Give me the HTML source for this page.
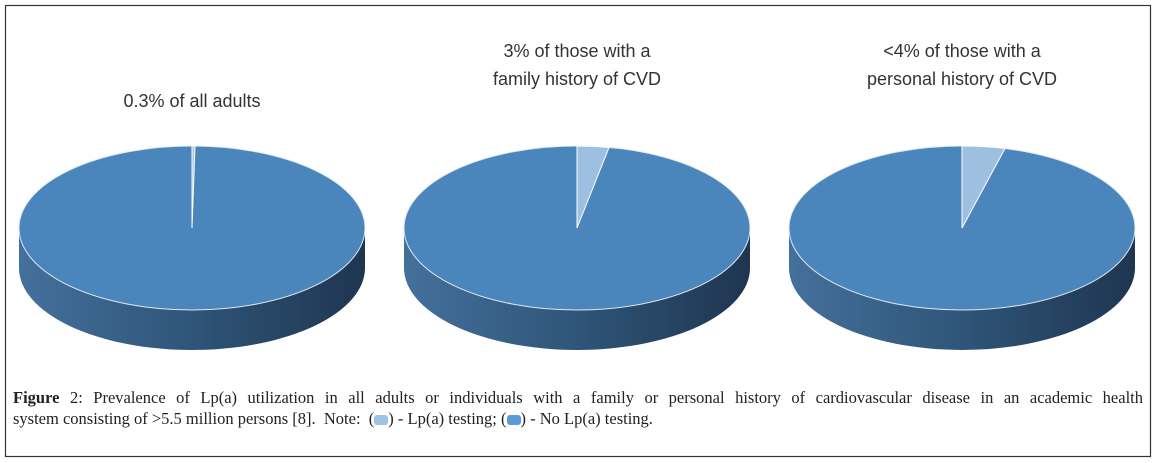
<!DOCTYPE html>
<html><head><meta charset="utf-8"><style>
body{margin:0;background:#fff;width:1157px;height:463px;overflow:hidden}
.cap{position:absolute;left:13px;top:387px;font-family:"Liberation Serif",serif;font-size:16.5px;color:#222;line-height:21px;width:1130px}
.l1{text-align:justify;text-align-last:justify;white-space:nowrap;display:block}
.sw{display:inline-block;width:14px;height:10px;border-radius:3px;vertical-align:-1px}
</style></head><body>
<svg width="1157" height="463" style="position:absolute;left:0;top:0">
<defs>
<linearGradient id="sd" x1="0" x2="1" y1="0" y2="0">
<stop offset="0" stop-color="#44709c"/><stop offset="0.5" stop-color="#2f5578"/><stop offset="1" stop-color="#1f3550"/>
</linearGradient>
</defs>
<rect x="5.5" y="5.5" width="1145" height="451" fill="none" stroke="#333" stroke-width="1.2"/>
<g font-family="Liberation Sans,sans-serif" font-size="18" fill="#333" text-anchor="middle">
<text x="192" y="107">0.3% of all adults</text>
<text x="577" y="57">3% of those with a</text>
<text x="577" y="85">family history of CVD</text>
<text x="962" y="57">&lt;4% of those with a</text>
<text x="962" y="85">personal history of CVD</text>
</g>
<g>
<path d="M19 228 L19 268 A173 82 0 0 0 365 268 L365 228 Z" fill="url(#sd)"/>
<ellipse cx="192" cy="228" rx="173" ry="82" fill="#4a86bb" stroke="#dfe9f3" stroke-width="1"/>
<path d="M192 228 L192 146 L195 146 Z" fill="#a8c6e4" stroke="#fff" stroke-width="1"/>
</g>
<g>
<path d="M404 228 L404 268 A173 82 0 0 0 750 268 L750 228 Z" fill="url(#sd)"/>
<ellipse cx="577" cy="228" rx="173" ry="82" fill="#4a86bb" stroke="#dfe9f3" stroke-width="1"/>
<path d="M577 228 L577 146 A173 82 0 0 1 609 147.5 Z" fill="#9dbfe0" stroke="#fff" stroke-width="1"/>
</g>
<g>
<path d="M789 228 L789 268 A173 82 0 0 0 1135 268 L1135 228 Z" fill="url(#sd)"/>
<ellipse cx="962" cy="228" rx="173" ry="82" fill="#4a86bb" stroke="#dfe9f3" stroke-width="1"/>
<path d="M962 228 L962 146 A173 82 0 0 1 1005 148.5 Z" fill="#9dbfe0" stroke="#fff" stroke-width="1"/>
</g>
</svg>
<div class="cap"><span class="l1"><b>Figure</b> 2: Prevalence of Lp(a) utilization in all adults or individuals with a family or personal history of cardiovascular disease in an academic health</span>system consisting of &gt;5.5 million persons [8].&nbsp; Note:&nbsp; (<span class="sw" style="background:#9dc3e6"></span>) - Lp(a) testing; (<span class="sw" style="background:#5b9bd5"></span>) - No Lp(a) testing.</div>
</body></html>
